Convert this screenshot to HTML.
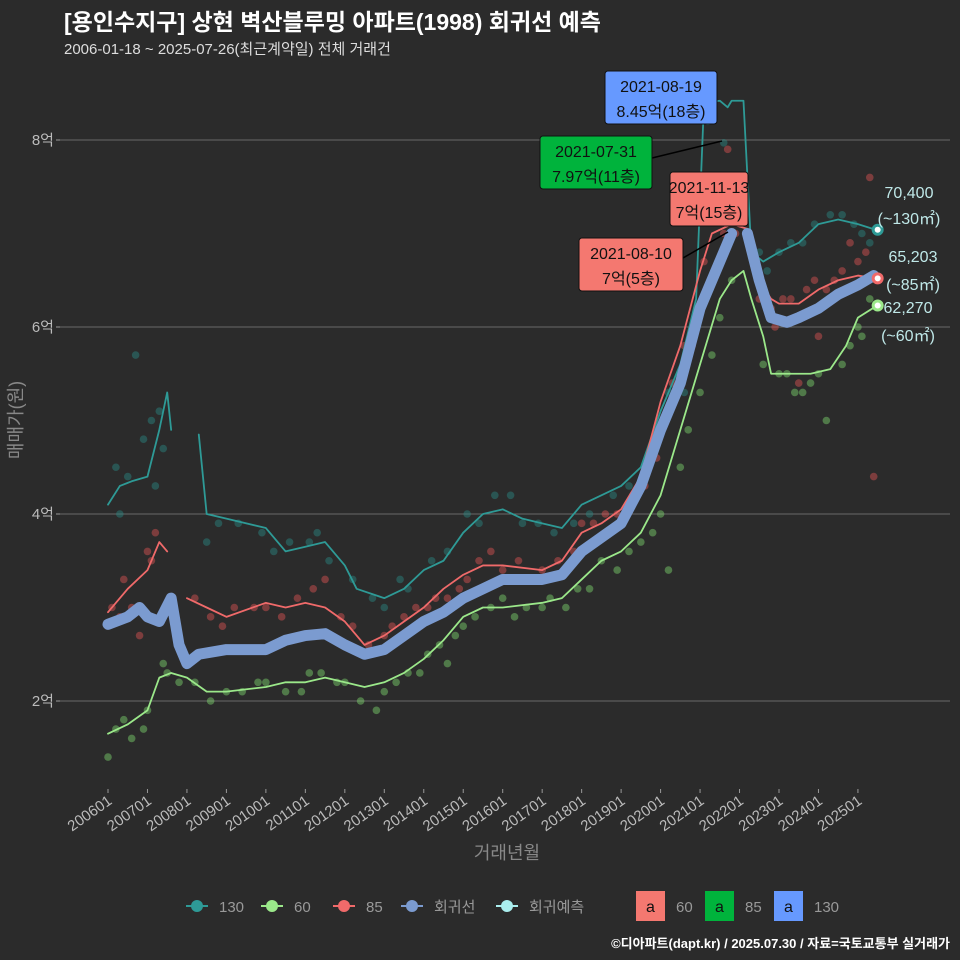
<!DOCTYPE html>
<html><head><meta charset="utf-8">
<style>
body{margin:0;background:#2b2b2b;}
svg{display:block;font-family:"Liberation Sans","Noto Sans CJK KR",sans-serif;}
</style></head>
<body>
<svg id="c" width="960" height="960" viewBox="0 0 960 960">
<rect width="960" height="960" fill="#2b2b2b"/>
<text x="64" y="30" fill="#fff" font-size="23" font-weight="bold">[용인수지구] 상현 벽산블루밍 아파트(1998) 회귀선 예측</text>
<text x="64" y="54" fill="#ddd" font-size="15">2006-01-18 ~ 2025-07-26(최근계약일) 전체 거래건</text>
<g id="grid"></g><g id="pts"></g><g id="lines"></g><g id="ann"></g>
<text transform="translate(22,420) rotate(-90)" text-anchor="middle" fill="#888" font-size="18">매매가(원)</text>
<text x="507" y="859" text-anchor="middle" fill="#888" font-size="18">거래년월</text>
<g id="legend" font-size="15" fill="#999"></g>
<text x="950" y="948" text-anchor="end" fill="#fff" font-size="13" font-weight="bold">©디아파트(dapt.kr) / 2025.07.30 / 자료=국토교통부 실거래가</text>
</svg>
<script>
const yTicks=[2,4,6,8];
const yTickLabels=["2억","4억","6억","8억"];
const xTickYears=[2006,2007,2008,2009,2010,2011,2012,2013,2014,2015,2016,2017,2018,2019,2020,2021,2022,2023,2024,2025];
const regT=[2006.0,2006.5,2006.8,2007.0,2007.3,2007.6,2007.8,2008.0,2008.3,2009,2010,2010.5,2011,2011.5,2012,2012.5,2013,2013.5,2014,2014.5,2015,2015.5,2016,2016.5,2017,2017.5,2018,2018.5,2019,2019.5,2020,2020.5,2021,2021.5,2021.8];
const regV=[2.82,2.9,3.0,2.9,2.85,3.1,2.6,2.4,2.5,2.55,2.55,2.65,2.7,2.72,2.6,2.5,2.55,2.7,2.85,2.95,3.1,3.2,3.3,3.3,3.3,3.35,3.6,3.75,3.9,4.3,4.9,5.4,6.2,6.7,7.0];
const reg2T=[2022.2,2022.5,2022.8,2023.2,2023.5,2024,2024.5,2025,2025.4];
const reg2V=[7.0,6.5,6.1,6.05,6.1,6.2,6.35,6.45,6.55];
const t130a=[2006.0,2006.3,2006.6,2007.0,2007.3,2007.5,2007.6];
const v130a=[4.1,4.3,4.35,4.4,4.9,5.3,4.9];
const t130=[2008.3,2008.5,2009,2010,2010.5,2011,2011.5,2012,2012.3,2013,2013.5,2014,2014.5,2015,2015.5,2016,2016.5,2017,2017.5,2018,2018.5,2019,2019.5,2020,2020.5,2020.9,2021.1,2021.5,2021.7,2021.8,2022.1,2022.3,2022.6,2023,2023.5,2024,2024.5,2025,2025.45];
const v130=[4.85,4.0,3.95,3.85,3.6,3.65,3.7,3.45,3.2,3.1,3.2,3.4,3.5,3.8,4.0,4.05,3.95,3.9,3.85,4.1,4.2,4.3,4.5,5.1,5.6,6.3,8.4,8.42,8.35,8.42,8.42,6.8,6.7,6.8,6.9,7.1,7.15,7.1,7.04];
const t85a=[2006.0,2006.5,2007.0,2007.3,2007.5];
const v85a=[2.95,3.2,3.4,3.7,3.6];
const t85=[2008.0,2008.5,2009,2010,2010.5,2011,2011.5,2012,2012.5,2013,2013.5,2014,2014.5,2015,2015.5,2016,2017,2017.5,2018,2018.5,2019,2019.5,2020,2020.5,2021,2021.3,2021.8,2022.2,2022.5,2022.8,2023,2023.5,2024,2024.5,2025,2025.45];
const v85=[3.1,3.0,2.9,3.05,3.0,3.05,3.0,2.85,2.6,2.7,2.85,3.0,3.2,3.35,3.45,3.45,3.4,3.5,3.8,3.9,4.05,4.4,5.2,5.8,6.6,7.0,7.1,7.05,6.5,6.3,6.25,6.25,6.4,6.5,6.55,6.52];
const t60=[2006.0,2006.5,2007.0,2007.3,2007.6,2008,2008.5,2009,2010,2010.5,2011,2011.5,2012,2012.5,2013,2013.5,2014,2014.5,2015,2015.5,2016,2017,2017.5,2018,2018.5,2019,2019.5,2020,2020.5,2021,2021.5,2021.8,2022.1,2022.3,2022.6,2022.8,2023.2,2023.8,2024.3,2024.7,2025,2025.45];
const v60=[1.65,1.75,1.9,2.25,2.3,2.25,2.1,2.1,2.15,2.2,2.2,2.25,2.2,2.15,2.2,2.3,2.45,2.65,2.9,3.0,3.0,3.05,3.1,3.3,3.5,3.6,3.8,4.2,4.9,5.6,6.3,6.5,6.6,6.3,5.9,5.5,5.5,5.5,5.55,5.8,6.1,6.22];
const d130T=[2006.2,2006.5,2006.7,2007.1,2007.2,2007.4,2008.5,2009.3,2010.2,2011.1,2011.6,2012.2,2013.0,2013.4,2014.2,2015.1,2015.8,2016.5,2017.3,2018.2,2019.2,2019.9,2020.6,2021.0,2021.3,2021.6,2022.7,2023.3,2023.9,2024.3,2024.9,2025.3,2006.3,2006.9,2007.3,2008.8,2009.9,2010.6,2011.3,2012.7,2013.6,2014.6,2015.4,2016.2,2016.9,2017.8,2018.8,2019.5,2020.2,2021.2,2022.5,2023.0,2023.6,2024.6,2025.1];
const d130V=[4.5,4.4,5.7,5.0,4.3,4.7,3.7,3.9,3.6,3.7,3.5,3.3,3.0,3.3,3.5,4.0,4.2,3.9,3.8,4.0,4.3,4.9,5.3,8.4,8.4,7.97,6.6,6.9,7.1,7.2,7.1,6.9,4.0,4.8,5.1,3.9,3.8,3.7,3.8,3.1,3.2,3.6,3.9,4.2,3.9,3.9,4.2,4.3,5.3,8.2,6.8,6.8,6.9,7.2,7.0];
const d85T=[2006.1,2006.4,2006.8,2007.0,2007.2,2008.2,2008.9,2009.7,2010.4,2011.2,2011.9,2012.6,2013.2,2013.8,2014.3,2014.9,2015.4,2016.0,2016.7,2017.4,2018.0,2018.6,2019.3,2019.9,2020.3,2020.8,2021.1,2021.6,2021.9,2022.8,2023.1,2023.5,2023.9,2024.2,2024.6,2025.0,2025.3,2025.4,2006.3,2006.6,2007.1,2008.6,2009.2,2010.0,2010.8,2011.5,2012.2,2013.0,2013.5,2014.1,2014.6,2015.1,2015.7,2016.4,2017.0,2017.8,2018.3,2018.9,2019.6,2020.1,2020.6,2021.3,2021.7,2022.5,2022.9,2023.3,2023.7,2024.0,2024.4,2024.8,2025.2];
const d85V=[3.0,3.3,2.7,3.6,3.8,3.1,2.8,3.0,2.9,3.2,2.9,2.6,2.8,3.0,3.1,3.2,3.5,3.4,3.3,3.5,3.9,4.0,4.2,4.6,5.4,5.8,6.7,7.0,7.0,6.2,6.3,5.4,6.5,6.4,6.6,6.7,7.6,4.4,2.9,3.0,3.5,2.9,3.0,3.0,3.1,3.3,2.8,2.7,2.9,3.0,3.1,3.3,3.6,3.5,3.4,3.6,3.9,4.0,4.3,5.0,5.8,6.5,7.9,6.3,6.0,6.3,6.4,5.9,6.5,6.9,6.8];
const d60T=[2006.0,2006.2,2006.6,2007.0,2007.4,2007.8,2008.6,2009.4,2010.0,2010.9,2011.4,2012.0,2012.8,2013.3,2013.9,2014.4,2014.8,2015.3,2016.0,2016.6,2017.2,2017.9,2018.5,2019.2,2019.8,2020.2,2020.7,2021.3,2021.8,2022.6,2023.0,2023.4,2023.8,2024.2,2024.6,2025.1,2025.3,2006.4,2006.9,2007.5,2008.2,2009.0,2009.8,2010.5,2011.1,2011.8,2012.4,2013.0,2013.6,2014.1,2014.6,2015.0,2015.7,2016.3,2017.0,2017.6,2018.2,2018.9,2019.5,2020.0,2020.5,2021.0,2021.5,2023.2,2023.6,2024.0,2024.8,2025.0];
const d60V=[1.4,1.7,1.6,1.9,2.4,2.2,2.0,2.1,2.2,2.1,2.3,2.2,1.9,2.2,2.3,2.6,2.7,2.9,3.1,3.0,3.1,3.2,3.5,3.6,3.8,3.4,4.9,5.7,6.5,5.6,5.5,5.3,5.4,5.0,5.6,5.9,6.3,1.8,1.7,2.3,2.2,2.1,2.2,2.1,2.3,2.2,2.0,2.1,2.3,2.5,2.4,2.8,3.0,2.9,3.0,3.0,3.2,3.4,3.7,4.0,4.5,5.3,6.1,5.5,5.3,5.5,5.8,6.0];
const ns="http://www.w3.org/2000/svg";
const X=t=>108+(t-2006)*39.47, Y=v=>888-v*93.5;
function mk(tag,a,p){const e=document.createElementNS(ns,tag);for(const k in a)e.setAttribute(k,a[k]);(p||document.getElementById('c')).appendChild(e);return e;}
const G=document.getElementById('grid');
yTicks.forEach((v,i)=>{
 const l=mk('line',{x1:60,x2:950,y1:Y(v),y2:Y(v),stroke:'#6a6a6a','stroke-width':1},G);
 
 const tk=mk('line',{x1:56,x2:60,y1:Y(v),y2:Y(v),stroke:'#999'},G);
 
 const t=mk('text',{x:54,y:Y(v)+5,'text-anchor':'end',fill:'#bbb','font-size':15},G);t.textContent=yTickLabels[i];
 
});
xTickYears.forEach(y=>{
 const x=X(y);
 const tk=mk('line',{x1:x,x2:x,y1:789,y2:793,stroke:'#999'},G);
 
 const t=mk('text',{transform:`translate(${x+5},${803}) rotate(-35)`,'text-anchor':'end',fill:'#bbb','font-size':15},G);t.textContent=y+'01';
 
});
const P=document.getElementById('pts');
function dots(T,V,c,name){T.forEach((t,i)=>{const d=mk('circle',{cx:X(t),cy:Y(V[i]),r:3.8,fill:c,'fill-opacity':0.45},P);
 });}
dots(d60T,d60V,'#7fd96e','point-60');dots(d85T,d85V,'#e05555','point-85');dots(d130T,d130V,'#2a8a86','point-130');
const L=document.getElementById('lines');
function line(T,V,c,w,name){const p=mk('polyline',{points:T.map((t,i)=>X(t)+','+Y(V[i])).join(' '),fill:'none',stroke:c,'stroke-width':w,'stroke-linejoin':'round','stroke-linecap':'round'},L);
 }
line(t130a,v130a,'#2e9a96',1.8,'line-130');line(t130,v130,'#2e9a96',1.8,'line-130');
line(t60,v60,'#9be88a',1.8,'line-60');
line(t85a,v85a,'#f06a6a',1.8,'line-85');line(t85,v85,'#f06a6a',1.8,'line-85');
line(regT,regV,'#7b9bd0',11,'regression-line');line(reg2T,reg2V,'#7b9bd0',11,'regression-line');
const A=document.getElementById('ann');
[[2025.5,7.04,'#2e9a96','end-130'],[2025.5,6.52,'#f06a6a','end-85'],[2025.5,6.23,'#9be88a','end-60']].forEach(e=>{
 const c=mk('circle',{cx:X(e[0]),cy:Y(e[1]),r:6,fill:e[2]},A);
 const c2=mk('circle',{cx:X(e[0]),cy:Y(e[1]),r:3,fill:'#fff'},A);});
function lbl(x,y,s,name){const t=mk('text',{x:x,y:y,fill:'#bfe8e8','font-size':16,'text-anchor':'middle'},A);t.textContent=s;}
lbl(909,198,'70,400','label-130-price');lbl(909,224,'(~130㎡)','label-130-area');
lbl(913,262,'65,203','label-85-price');lbl(913,290,'(~85㎡)','label-85-area');
lbl(908,313,'62,270','label-60-price');lbl(908,341,'(~60㎡)','label-60-area');
function box(x,y,w,h,c,l1,l2,lx1,ly1,lx2,ly2,name){
 if(lx1){const ln=mk('line',{x1:lx1,y1:ly1,x2:lx2,y2:ly2,stroke:'#000','stroke-width':1.5},A);}
 const r=mk('rect',{x:x,y:y,width:w,height:h,rx:3,fill:c,stroke:'#111'},A);
 [l1,l2].forEach((s,i)=>{const t=mk('text',{x:x+w/2,y:y+21+i*25,'text-anchor':'middle',fill:'#111','font-size':16},A);t.textContent=s;});}
box(605,71,112,53,'#6699ff','2021-08-19','8.45억(18층)',0,0,0,0,'annotation-max-130');
box(540,136,112,53,'#00b33c','2021-07-31','7.97억(11층)',652,158,722,141,'annotation-max-85');
box(670,172,78,54,'#f47870','2021-11-13','7억(15층)',0,0,0,0,'annotation-max-60');
box(579,238,104,53,'#f47870','2021-08-10','7억(5층)',683,258,728,232,'annotation-max-60b');
const LG=document.getElementById('legend');
[[197,'#2e9a96','130'],[272,'#9be88a','60'],[344,'#f06a6a','85'],[412,'#7b9bd0','회귀선'],[507,'#aaeeee','회귀예측']].forEach(e=>{
 const g=mk('g',{},LG);
 mk('line',{x1:e[0]-11,x2:e[0]+11,y1:906,y2:906,stroke:e[1],'stroke-width':2},g);
 mk('circle',{cx:e[0],cy:906,r:6,fill:e[1]},g);
 const t=mk('text',{x:e[0]+22,y:912,fill:'#999','font-size':15},g);t.textContent=e[2];});
[[636,'#f47870','60'],[705,'#00b33c','85'],[774,'#6699ff','130']].forEach(e=>{
 const g=mk('g',{},LG);
 mk('rect',{x:e[0],y:891,width:29,height:30,fill:e[1]},g);
 const a=mk('text',{x:e[0]+14.5,y:912,'text-anchor':'middle',fill:'#111','font-size':16},g);a.textContent='a';
 const t=mk('text',{x:e[0]+40,y:912,fill:'#999','font-size':15},g);t.textContent=e[2];});
</script>
</body></html>
